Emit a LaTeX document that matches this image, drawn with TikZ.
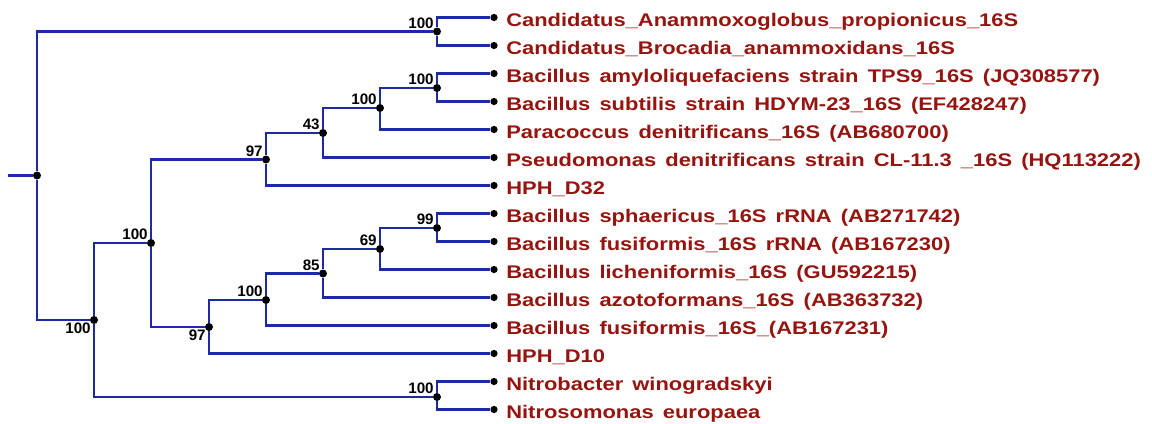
\documentclass[tikz,border=0pt]{standalone}
\usepackage{fontspec}
\setmainfont{Liberation Sans}
\newfontfamily\taxonfont[FakeStretch=1.2,WordSpace=1.5]{Liberation Sans}
\usetikzlibrary{positioning}
\definecolor{branchblue}{RGB}{28,44,160}
\definecolor{taxonred}{RGB}{150,20,15}

\begin{document}
\begin{tikzpicture}[
		x=0.025cm, y=-0.025cm,
		branch/.style={draw=branchblue, line width=1.5pt},
		inode/.style={circle, fill=black, inner sep=0pt, minimum size=0.2cm},
		leaf/.style={circle, fill=black, inner sep=0pt, minimum size=0.18cm},
		taxon/.style={anchor=base west, inner sep=0pt, text=taxonred,
			font=\taxonfont\fontsize{13}{16}\selectfont\bfseries},
		boot/.style={inner sep=0pt, font=\fontsize{10.8}{12}\selectfont\bfseries},
		label distance=0pt
		]
		
		\useasboundingbox (0,0) rectangle (1152,423);
		
		% leaves
		\foreach \txt [count=\i] in {
			Candidatus\_Anammoxoglobus\_propionicus\_16S,
			Candidatus\_Brocadia\_anammoxidans\_16S,
			Bacillus amyloliquefaciens strain TPS9\_16S (JQ308577),
			Bacillus subtilis strain HDYM-23\_16S (EF428247),
			Paracoccus denitrificans\_16S (AB680700),
			Pseudomonas denitrificans strain CL-11.3 \_16S (HQ113222),
			HPH\_D32,
			Bacillus sphaericus\_16S rRNA (AB271742),
			Bacillus fusiformis\_16S rRNA (AB167230),
			Bacillus licheniformis\_16S (GU592215),
			Bacillus azotoformans\_16S (AB363732),
			Bacillus fusiformis\_16S\_(AB167231),
			HPH\_D10,
			Nitrobacter winogradskyi,
			Nitrosomonas europaea}
		{
			\node[leaf] (l\i) at (494, {-10.5+28*\i}) {};
			\node[taxon] (t\i) at (506, {-2+28*\i}) {\txt};
		}
		
		% internal nodes
		\coordinate (stub) at (8,175.5);
		\node[inode] (root) at (37,175.5) {};
		\node[inode, label={[boot]above left:100}] (cand) at (437,31.5) {};
		\node[inode, label={[boot]below left:100}] (a) at (94,320) {};
		\node[inode, label={[boot]above left:100}] (b) at (151,243) {};
		\node[inode, label={[boot]above left:97}] (c) at (266,159.5) {};
		\node[inode, label={[boot]above left:43}] (d) at (323,133) {};
		\node[inode, label={[boot]above left:100}] (e) at (380,108) {};
		\node[inode, label={[boot]above left:100}] (f) at (437,88) {};
		\node[inode, label={[boot]below left:97}] (g) at (209,327) {};
		\node[inode, label={[boot]above left:100}] (h) at (266,300) {};
		\node[inode, label={[boot]above left:85}] (i) at (323,273.5) {};
		\node[inode, label={[boot]above left:69}] (j) at (380,249) {};
		\node[inode, label={[boot]above left:99}] (k) at (437,228) {};
		\node[inode, label={[boot]above left:100}] (nit) at (437,397) {};
		
		% branches
		\draw[branch] (stub) -- (root);
		\draw[branch] (root) |- (cand);
		\draw[branch] (root) |- (a);
		\draw[branch] (cand) |- (l1);
		\draw[branch] (cand) |- (l2);
		\draw[branch] (a) |- (b);
		\draw[branch] (a) |- (nit);
		\draw[branch] (b) |- (c);
		\draw[branch] (b) |- (g);
		\draw[branch] (c) |- (d);
		\draw[branch] (c) |- (l7);
		\draw[branch] (d) |- (e);
		\draw[branch] (d) |- (l6);
		\draw[branch] (e) |- (f);
		\draw[branch] (e) |- (l5);
		\draw[branch] (f) |- (l3);
		\draw[branch] (f) |- (l4);
		\draw[branch] (g) |- (h);
		\draw[branch] (g) |- (l13);
		\draw[branch] (h) |- (i);
		\draw[branch] (h) |- (l12);
		\draw[branch] (i) |- (j);
		\draw[branch] (i) |- (l11);
		\draw[branch] (j) |- (k);
		\draw[branch] (j) |- (l10);
		\draw[branch] (k) |- (l8);
		\draw[branch] (k) |- (l9);
		\draw[branch] (nit) |- (l14);
		\draw[branch] (nit) |- (l15);
		
	\end{tikzpicture}
\end{document}
